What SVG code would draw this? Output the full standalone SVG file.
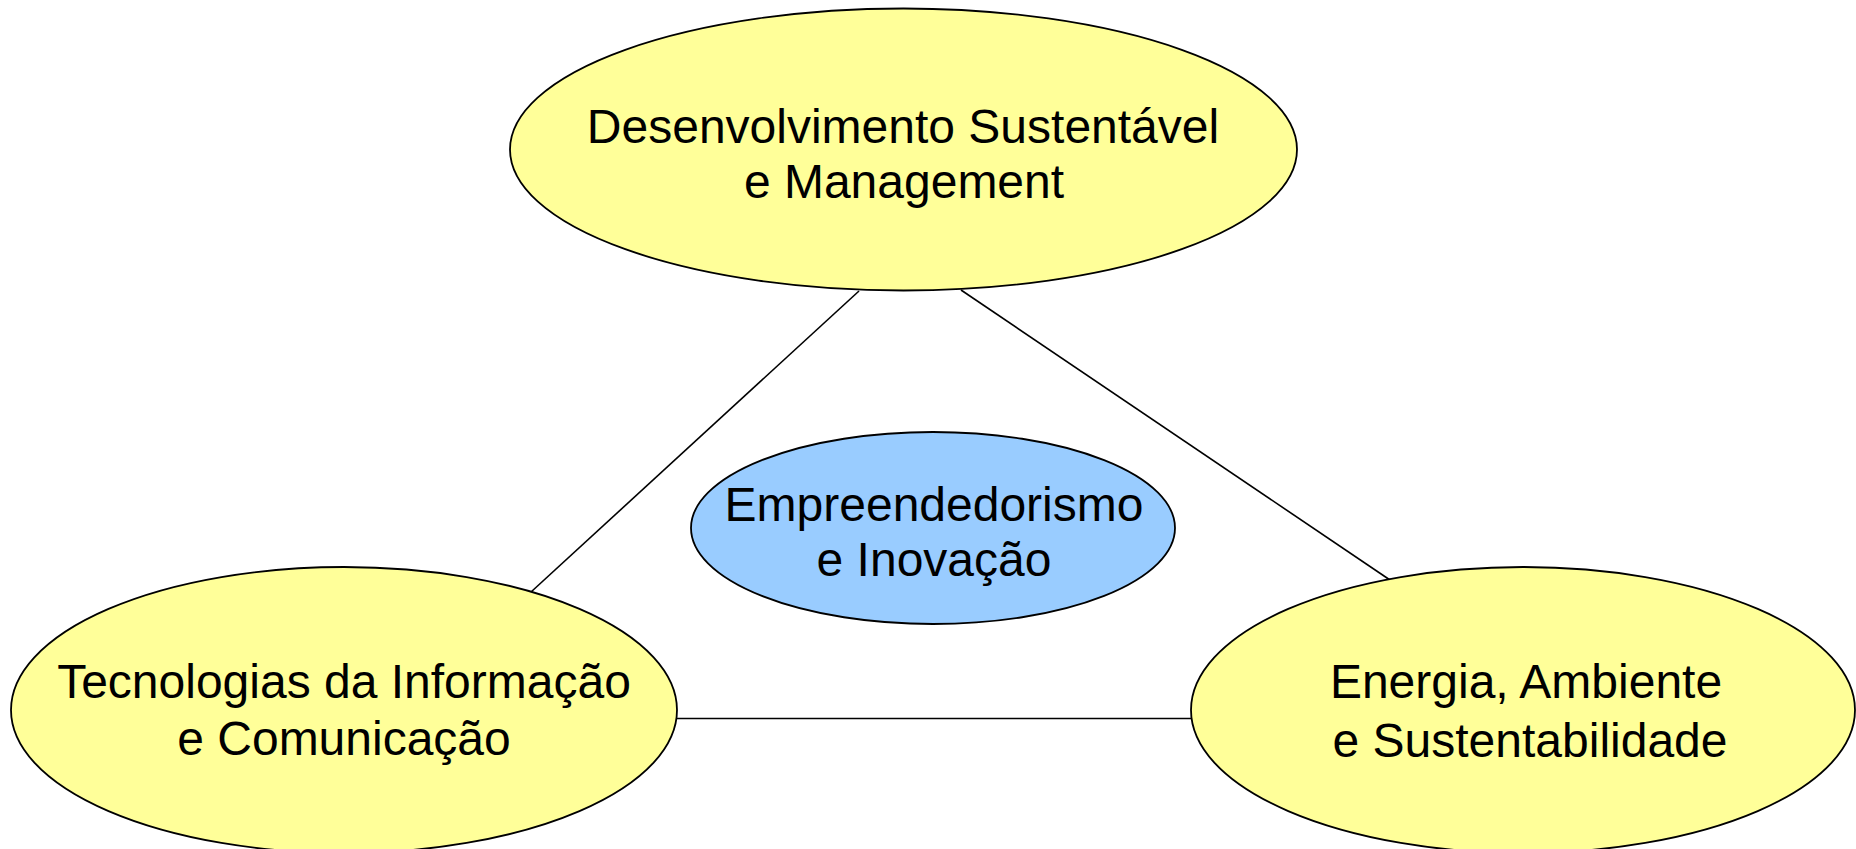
<svg xmlns="http://www.w3.org/2000/svg" width="1856" height="849" viewBox="0 0 1856 849">
<style>
.y{fill:#FFFF99;stroke:#000;stroke-width:1.8}
.b{fill:#99CCFF;stroke:#000;stroke-width:1.8}
.c{stroke:#000;stroke-width:1.6;fill:none}
text{font-family:"Liberation Sans",Arial,sans-serif;font-size:48px;fill:#000;text-anchor:middle}
</style>
<rect width="1856" height="849" fill="#fff"/>
<g id="connectors">
<line class="c" x1="859" y1="291" x2="531" y2="592"/>
<line class="c" x1="961" y1="290" x2="1390" y2="580"/>
<line class="c" x1="677" y1="718.5" x2="1191" y2="718.5"/>
</g>
<g id="top">
<ellipse class="y" cx="903.5" cy="149.5" rx="393.5" ry="141"/>
<text x="903" y="143">Desenvolvimento Sustentável</text>
<text x="904" y="198">e Management</text>
</g>
<g id="center">
<ellipse class="b" cx="933" cy="528" rx="242" ry="96"/>
<text x="934" y="521">Empreendedorismo</text>
<text x="934" y="576">e Inovação</text>
</g>
<g id="left">
<ellipse class="y" cx="344" cy="710" rx="333" ry="143"/>
<text x="344" y="698">Tecnologias da Informação</text>
<text x="344" y="755">e Comunicação</text>
</g>
<g id="right">
<ellipse class="y" cx="1523" cy="710" rx="332" ry="143"/>
<text x="1526" y="698">Energia, Ambiente</text>
<text x="1530" y="757">e Sustentabilidade</text>
</g>
</svg>
